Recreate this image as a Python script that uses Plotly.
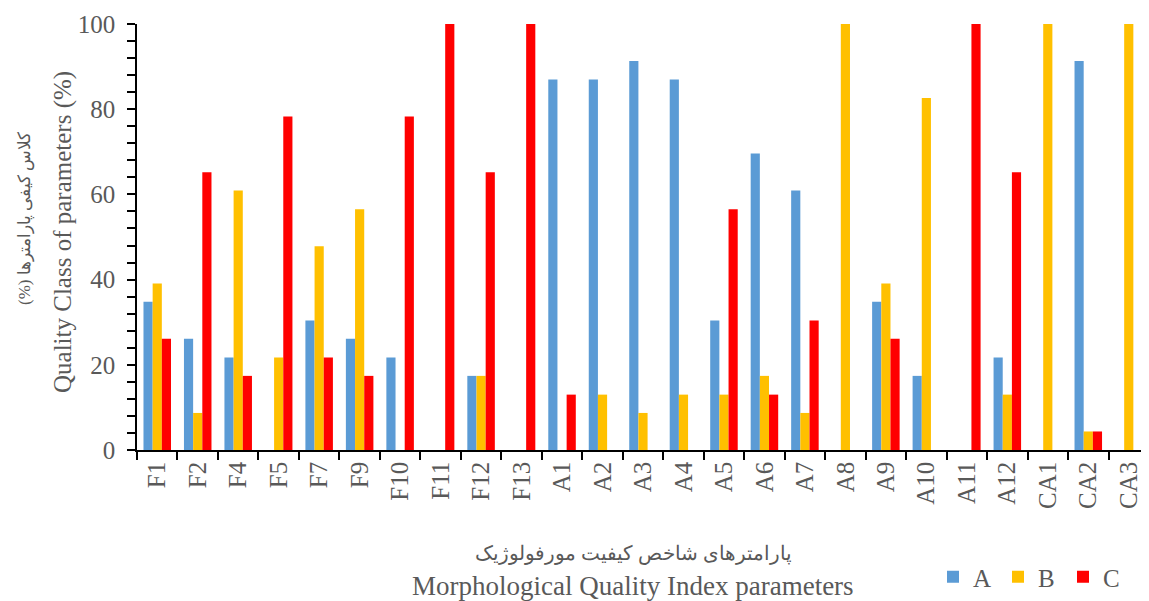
import plotly.graph_objects as go

categories = ["F1", "F2", "F4", "F5", "F7", "F9", "F10", "F11", "F12", "F13",
              "A1", "A2", "A3", "A4", "A5", "A6", "A7", "A8", "A9", "A10", "A11", "A12",
              "CA1", "CA2", "CA3"]
series_A = [34.8, 26.1, 21.7, 0, 30.4, 26.1, 21.7, 0, 17.4, 0,
            87.0, 87.0, 91.3, 87.0, 30.4, 69.6, 60.9, 0, 34.8, 17.4, 0, 21.7,
            0, 91.3, 0]
series_B = [39.1, 8.7, 60.9, 21.7, 47.8, 56.5, 0, 0, 17.4, 0,
            0, 13.0, 8.7, 13.0, 13.0, 17.4, 8.7, 100, 39.1, 82.6, 0, 13.0,
            100, 4.35, 100]
series_C = [26.1, 65.2, 17.4, 78.3, 21.7, 17.4, 78.3, 100, 65.2, 100,
            13.0, 0, 0, 0, 56.5, 13.0, 30.4, 0, 26.1, 0, 100, 65.2,
            0, 4.35, 0]
series_names = ["A", "B", "C"]
colors = ["#5B9BD5", "#FFC000", "#FF0000"]

serif = "Liberation Serif, Times New Roman, serif"
gray = "#595959"

# plot area in page pixels: x 137..1149, y 24..450 (page has 8px body margin)
PX0, PX1, PY0, PY1 = 137, 1149, 24, 450
def px(x):
    return (x - PX0) / (PX1 - PX0)
def py(y):
    return (PY1 - y) / (PY1 - PY0)

fig = go.Figure()
for name, vals, col in zip(series_names, [series_A, series_B, series_C], colors):
    fig.add_trace(go.Bar(name=name, x=categories, y=vals,
                         marker=dict(color=col, line=dict(width=0))))

fig.update_layout(
    width=1141, height=593,
    margin=dict(l=129, r=0, t=16, b=151, pad=0),
    barmode="group", bargap=0.32, bargroupgap=0,
    plot_bgcolor="white", paper_bgcolor="white",
    font=dict(family=serif, color=gray, size=25),
    showlegend=True,
    legend=dict(orientation="h", x=px(1128), xanchor="right", y=py(577), yanchor="middle",
                font=dict(size=25, color=gray, family=serif), itemwidth=30,
                entrywidth=20, entrywidthmode="pixels",
                traceorder="normal", tracegroupgap=0),
)
fig.update_xaxes(
    type="category", range=[-0.5, 24.5],
    showline=True, linecolor="black", linewidth=1.5,
    ticks="outside", tickson="boundaries", ticklen=8, tickcolor="black", tickwidth=1.5,
    tickangle=-90, tickfont=dict(size=25, color=gray, family=serif),
    showgrid=False,
)
fig.update_yaxes(
    range=[0, 100], dtick=20, tick0=0,
    showline=True, linecolor="black", linewidth=1.5,
    ticks="outside", ticklen=8, tickcolor="black", tickwidth=1.5,
    minor=dict(dtick=4, ticks="outside", ticklen=8, tickcolor="black", tickwidth=1.5, showgrid=False),
    tickfont=dict(size=25, color=gray, family=serif),
    ticklabelstandoff=7,
    showgrid=False, zeroline=False,
)

# Axis titles (bilingual)
fig.add_annotation(
    text="(%) کلاس کیفی پارامترها", textangle=-90,
    xref="paper", yref="paper", x=px(25), y=py(218),
    xanchor="center", yanchor="middle", showarrow=False,
    font=dict(size=17, color=gray, family=serif),
)
fig.add_annotation(
    text="Quality Class of parameters (%)", textangle=-90,
    xref="paper", yref="paper", x=px(63), y=py(232),
    xanchor="center", yanchor="middle", showarrow=False,
    font=dict(size=25, color=gray, family=serif),
)
fig.add_annotation(
    text="پارامترهای شاخص کیفیت مورفولوژیک",
    xref="paper", yref="paper", x=px(633), y=py(553),
    xanchor="center", yanchor="middle", showarrow=False,
    font=dict(size=20, color=gray, family=serif),
)
fig.add_annotation(
    text="Morphological Quality Index parameters",
    xref="paper", yref="paper", x=px(633), y=py(586),
    xanchor="center", yanchor="middle", showarrow=False,
    font=dict(size=27, color=gray, family=serif),
)

fig.write_html("out.html")
